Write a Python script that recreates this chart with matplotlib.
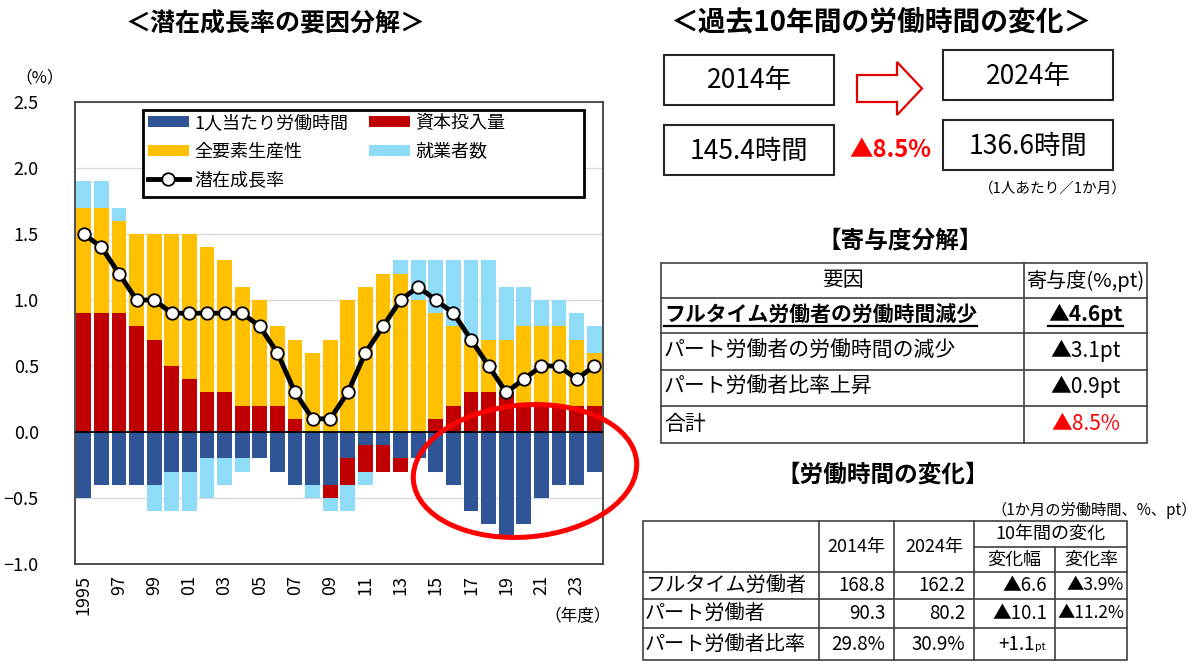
import numpy as np
import matplotlib
matplotlib.use('Agg')
import matplotlib.pyplot as plt
from matplotlib.patches import Rectangle, Ellipse, Polygon

plt.rcParams['font.family'] = ['Noto Sans CJK JP', 'DejaVu Sans']

# ---- 潜在成長率の要因分解 (寄与度, %) ----
years = list(range(1995, 2025))
hours = [-0.5, -0.4, -0.4, -0.4, -0.4, -0.3, -0.3, -0.2, -0.2, -0.2,
         -0.2, -0.3, -0.4, -0.4, -0.4, -0.2, -0.1, -0.1, -0.2, -0.2,
         -0.3, -0.4, -0.6, -0.7, -0.8, -0.7, -0.5, -0.4, -0.4, -0.3]
capital = [0.9, 0.9, 0.9, 0.8, 0.7, 0.5, 0.4, 0.3, 0.3, 0.2,
           0.2, 0.2, 0.1, 0.0, -0.1, -0.2, -0.2, -0.2, -0.1, 0.0,
           0.1, 0.2, 0.3, 0.3, 0.3, 0.2, 0.2, 0.2, 0.2, 0.2]
tfp = [0.8, 0.8, 0.7, 0.7, 0.8, 1.0, 1.1, 1.1, 1.0, 0.9,
       0.8, 0.6, 0.6, 0.6, 0.7, 1.0, 1.1, 1.2, 1.2, 1.0,
       0.8, 0.6, 0.4, 0.4, 0.4, 0.6, 0.6, 0.6, 0.5, 0.4]
workers = [0.2, 0.2, 0.1, 0.0, -0.2, -0.3, -0.3, -0.3, -0.2, -0.1,
           0.0, 0.0, 0.0, -0.1, -0.1, -0.2, -0.1, 0.0, 0.1, 0.3,
           0.4, 0.5, 0.6, 0.6, 0.4, 0.3, 0.2, 0.2, 0.2, 0.2]
potential = [1.5, 1.4, 1.2, 1.0, 1.0, 0.9, 0.9, 0.9, 0.9, 0.9,
             0.8, 0.6, 0.3, 0.1, 0.1, 0.3, 0.6, 0.8, 1.0, 1.1,
             1.0, 0.9, 0.7, 0.5, 0.3, 0.4, 0.5, 0.5, 0.4, 0.5]
series_names = ['1人当たり労働時間', '資本投入量', '全要素生産性', '就業者数']
series_colors = ['#2F5597', '#C00000', '#FFC000', '#8FDCF8']
line_name = '潜在成長率'
tick_labels = ['1995', '97', '99', '01', '03', '05', '07', '09', '11',
               '13', '15', '17', '19', '21', '23']

# ---- 右側のパネル ----
box_years = ['2014年', '2024年']
box_hours = ['145.4時間', '136.6時間']
change_label = '▲8.5%'
contrib_factors = ['フルタイム労働者の労働時間減少', 'パート労働者の労働時間の減少',
                   'パート労働者比率上昇', '合計']
contrib_values = ['▲4.6pt', '▲3.1pt', '▲0.9pt', '▲8.5%']
hours_rows = ['フルタイム労働者', 'パート労働者', 'パート労働者比率']
hours_2014 = ['168.8', '90.3', '29.8%']
hours_2024 = ['162.2', '80.2', '30.9%']
hours_diff = ['▲6.6', '▲10.1', '+1.1']
hours_rate = ['▲3.9%', '▲11.2%', '']

fig = plt.figure(figsize=(12, 6.65), dpi=100)

# ---------------- 左のグラフ ----------------
ax = fig.add_axes([75 / 1200, 1 - 564 / 665, 528 / 1200, 462 / 665])
x = np.arange(len(years))
pos_base = np.zeros(len(years))
neg_base = np.zeros(len(years))
handles = []
for vals, name, col in zip([hours, capital, tfp, workers], series_names, series_colors):
    v = np.array(vals)
    bottom = np.where(v >= 0, pos_base, neg_base)
    b = ax.bar(x, v, width=0.85, bottom=bottom, color=col, label=name, zorder=2)
    handles.append(b)
    pos_base += np.where(v > 0, v, 0)
    neg_base += np.where(v < 0, v, 0)

ln, = ax.plot(x, potential, color='black', lw=3.5, marker='o', markersize=9,
              markerfacecolor='white', markeredgecolor='black', markeredgewidth=1.3,
              label=line_name, zorder=4)

ax.axhline(0, color='black', lw=1.3, zorder=3)
ax.set_xlim(-0.5, len(years) - 0.5)
ax.set_ylim(-1.0, 2.5)
yt = np.arange(-1.0, 2.51, 0.5)
ax.set_yticks(yt)
ax.set_yticklabels(['%.1f' % t if t >= 0 else '\u2212%.1f' % -t for t in yt])
ax.set_xticks(x[::2])
ax.set_xticklabels(tick_labels, rotation=90)
ax.tick_params(axis='y', length=0, pad=26, labelsize=13)
ax.tick_params(axis='x', length=0, pad=8, labelsize=13)
ax.grid(axis='y', color='#D9D9D9', lw=1, zorder=0)
ax.set_axisbelow(True)
for s in ax.spines.values():
    s.set_color('#404040')
    s.set_linewidth(1.3)

# 凡例 (枠は自前で描く)
lx0, lx1, ly0, ly1 = 143, 584, 110, 197
to_ax = lambda px, py: ((px - 75) / 528, (564 - py) / 462)
(ax0, ay1), (ax1, ay0) = to_ax(lx0, ly0), to_ax(lx1, ly1)
ax.add_patch(Rectangle((ax0, ay0), ax1 - ax0, ay1 - ay0, transform=ax.transAxes,
                       facecolor='white', edgecolor='black', lw=2, zorder=5))
leg = ax.legend([handles[0], handles[2], ln, handles[1], handles[3]],
                [series_names[0], series_names[2], line_name, series_names[1], series_names[3]],
                ncol=2, loc='upper left', bbox_to_anchor=to_ax(lx0 + 2, ly0 + 1),
                fontsize=13, handlelength=2.3, handleheight=0.55, frameon=False,
                borderaxespad=0, labelspacing=0.6, handletextpad=0.3,
                columnspacing=1.1, borderpad=0.15)
leg.set_zorder(6)

# ---------------- オーバーレイ (ピクセル座標) ----------------
ov = fig.add_axes([0, 0, 1, 1])
ov.set_xlim(0, 1200)
ov.set_ylim(665, 0)
ov.axis('off')
ov.patch.set_alpha(0)

ov.text(275, 24, '＜潜在成長率の要因分解＞', ha='center', va='center', fontsize=18, fontweight='bold')
ov.text(40, 78, '（%）', ha='center', va='center', fontsize=12)
ov.text(578, 617, '（年度）', ha='center', va='center', fontsize=12)

# 赤い楕円
ov.add_patch(Ellipse((525, 471), 224, 132, angle=-5, fill=False, edgecolor='#FF0000', lw=3.6, zorder=10))

ov.text(881, 22, '＜過去10年間の労働時間の変化＞', ha='center', va='center', fontsize=20, fontweight='bold')

# 年・時間の箱
box_lw = 1.5
for (bx, by), txt in zip([(664, 55), (943, 50)], box_years):
    ov.add_patch(Rectangle((bx, by), 170, 50, fill=False, edgecolor='#262626', lw=box_lw))
    ov.text(bx + 85, by + 26, txt, ha='center', va='center', fontsize=19)
for (bx, by), txt in zip([(664, 125), (943, 120)], box_hours):
    ov.add_patch(Rectangle((bx, by), 170, 50, fill=False, edgecolor='#262626', lw=box_lw))
    ov.text(bx + 85, by + 26, txt, ha='center', va='center', fontsize=19)

# 矢印
arrow_pts = [(857, 75), (897, 75), (897, 62), (922, 88.5), (897, 115), (897, 102), (857, 102)]
ov.add_patch(Polygon(arrow_pts, closed=True, facecolor='white', edgecolor='#E00000', lw=1.6))
ov.text(890, 150, change_label, ha='center', va='center', fontsize=17, fontweight='bold', color='#FF0000')
ov.text(1053, 189, '（1人あたり／1か月）', ha='center', va='center', fontsize=10.5)

# 寄与度分解
ov.text(900, 240, '【寄与度分解】', ha='center', va='center', fontsize=17, fontweight='bold')
t_left, t_right, t_mid = 661, 1147, 1024
row_y = [263, 298, 333, 370, 406, 443]
tcol = '#404040'
ov.add_patch(Rectangle((t_left, row_y[0]), t_right - t_left, row_y[-1] - row_y[0],
                       fill=False, edgecolor=tcol, lw=1.2))
for yy in row_y[1:-1]:
    ov.plot([t_left, t_right], [yy, yy], color=tcol, lw=1.2)
ov.plot([t_mid, t_mid], [row_y[0], row_y[-1]], color=tcol, lw=1.2)
ov.text((t_left + t_mid) / 2, (row_y[0] + row_y[1]) / 2, '要因', ha='center', va='center', fontsize=15)
ov.text((t_mid + t_right) / 2, (row_y[0] + row_y[1]) / 2, '寄与度(%,pt)', ha='center', va='center', fontsize=14.5)
under = []
for i, (fac, val) in enumerate(zip(contrib_factors, contrib_values)):
    yc = (row_y[i + 1] + row_y[i + 2]) / 2 - 1
    bold = 'bold' if i == 0 else 'normal'
    col = '#FF0000' if i == 3 else 'black'
    t1 = ov.text(t_left + 3, yc, fac, ha='left', va='center', fontsize=15, fontweight=bold)
    t2 = ov.text((t_mid + t_right) / 2, yc, val, ha='center', va='center', fontsize=15,
                 fontweight=bold, color=col)
    if i == 0:
        under = [t1, t2]

# 労働時間の変化
ov.text(883, 475, '【労働時間の変化】', ha='center', va='center', fontsize=17, fontweight='bold')
ov.text(1197, 510, '（1か月の労働時間、%、pt）', ha='right', va='center', fontsize=11)
cx = [643, 819, 894, 974, 1055, 1127]
ry = [521, 572, 599, 628, 660]
ov.add_patch(Rectangle((cx[0], ry[0]), cx[-1] - cx[0], ry[-1] - ry[0], fill=False, edgecolor=tcol, lw=1.2))
for yy in ry[1:-1]:
    ov.plot([cx[0], cx[-1]], [yy, yy], color=tcol, lw=1.2)
ov.plot([cx[3], cx[5]], [547, 547], color=tcol, lw=1.2)
for xx in cx[1:-1]:
    y0 = 547 if xx == cx[4] else ry[0]
    ov.plot([xx, xx], [y0, ry[-1]], color=tcol, lw=1.2)
ov.text((cx[1] + cx[2]) / 2, 547, '2014年', ha='center', va='center', fontsize=13)
ov.text((cx[2] + cx[3]) / 2, 547, '2024年', ha='center', va='center', fontsize=13)
ov.text((cx[3] + cx[5]) / 2, 534, '10年間の変化', ha='center', va='center', fontsize=13)
ov.text((cx[3] + cx[4]) / 2, 560, '変化幅', ha='center', va='center', fontsize=13)
ov.text((cx[4] + cx[5]) / 2, 560, '変化率', ha='center', va='center', fontsize=13)
num_fs = 13.5
for i, lab in enumerate(hours_rows):
    yc = (ry[i + 1] + ry[i + 2]) / 2
    ov.text(cx[0] + 2, yc, lab, ha='left', va='center', fontsize=14.5)
    ov.text(cx[2] - 9, yc, hours_2014[i], ha='right', va='center', fontsize=num_fs)
    ov.text(cx[3] - 9, yc, hours_2024[i], ha='right', va='center', fontsize=num_fs)
    if hours_diff[i].startswith('+'):
        ov.text(cx[3] + 24, yc, hours_diff[i], ha='left', va='center', fontsize=num_fs)
        ov.text(cx[3] + 61, yc + 3, 'pt', ha='left', va='center', fontsize=7.5)
    else:
        ov.text(cx[4] - 8, yc, hours_diff[i], ha='right', va='center', fontsize=num_fs)
    if hours_rate[i]:
        ov.text(cx[5] - 3, yc, hours_rate[i], ha='right', va='center', fontsize=12.5)

# 下線 (太字の1行目)
fig.canvas.draw()
inv = ov.transData.inverted()
for t in under:
    bb = t.get_window_extent()
    (xa, _), (xb, _) = inv.transform([(bb.x0, bb.y0), (bb.x1, bb.y0)])
    ov.plot([xa, xb], [row_y[2] - 7, row_y[2] - 7], color='black', lw=1.6)

fig.savefig('out.png', dpi=100)
